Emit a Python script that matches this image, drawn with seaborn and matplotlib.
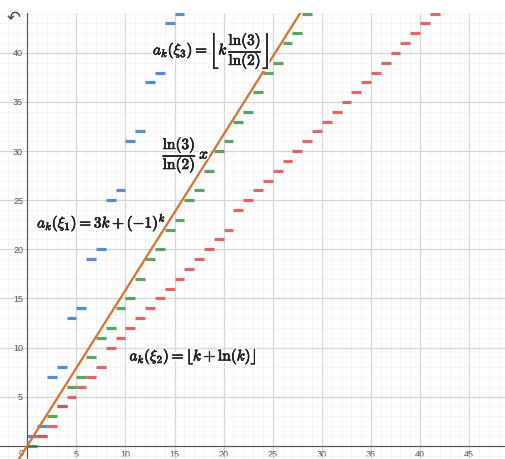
import numpy as np
import pandas as pd
import matplotlib.pyplot as plt
import matplotlib.patheffects as pe
from matplotlib.ticker import MultipleLocator, FuncFormatter
import seaborn as sns

# values a_k, one dash per k on [k, k+1]
k_blue = list(range(0, 16))
a_blue = [1, 2, 7, 8, 13, 14, 19, 20, 25, 26, 31, 32, 37, 38, 43, 44]
k_green = list(range(0, 29))
a_green = [0, 1, 3, 4, 6, 7, 9, 11, 12, 14, 15, 17, 19, 20, 22, 23, 25, 26,
           28, 30, 31, 33, 34, 36, 38, 39, 41, 42, 44]
k_red = list(range(1, 42))
a_red = [1, 2, 4, 5, 6, 7, 8, 10, 11, 12, 13, 14, 15, 16, 17, 18, 19, 20, 21,
         22, 24, 25, 26, 27, 28, 29, 30, 31, 32, 33, 34, 35, 36, 37, 38, 39,
         40, 41, 42, 43, 44]
slope = 1.585  # ln(3)/ln(2)

sns.set_style("white")
plt.rcParams['mathtext.fontset'] = 'cm'
plt.rcParams['font.family'] = ['Liberation Sans', 'DejaVu Sans']

fig = plt.figure(figsize=(5.05, 4.59), dpi=100)
ax = fig.add_axes([0, 0, 1, (459 - 12.7) / 459])


def dashes(ks, vals):
    # every k gives one flat piece from k to k+1
    rows = []
    for k, a in zip(ks, vals):
        rows.append({'x': k, 'y': a, 'seg': k})
        rows.append({'x': k + 1, 'y': a, 'seg': k})
    return pd.DataFrame(rows)


for ks, vals, col in [(k_blue, a_blue, '#3a7bd0'),
                      (k_green, a_green, '#3f9550'),
                      (k_red, a_red, '#de4e4e')]:
    sns.lineplot(data=dashes(ks, vals), x='x', y='y', units='seg',
                 estimator=None, color=col, lw=2.3, alpha=0.85, ax=ax,
                 legend=False, sort=False, solid_capstyle='butt')

ax.axline((0, 0), slope=slope, color='#d9722a', lw=1.6, zorder=5)

ax.set_xlim(-2.78, 48.65)
ax.set_ylim(-1.35, 44.09)
ax.set_xlabel('')
ax.set_ylabel('')

# desmos style grid
ax.xaxis.set_major_locator(MultipleLocator(5))
ax.yaxis.set_major_locator(MultipleLocator(5))
ax.xaxis.set_minor_locator(MultipleLocator(1))
ax.yaxis.set_minor_locator(MultipleLocator(1))
fmt = FuncFormatter(lambda v, p: '' if abs(v) < 1e-9 else '%d' % v)
ax.xaxis.set_major_formatter(fmt)
ax.yaxis.set_major_formatter(fmt)
ax.grid(which='major', color='#d6d6d6', lw=0.9)
ax.grid(which='minor', color='#f1f1f1', lw=0.5)
ax.set_axisbelow(True)
ax.tick_params(which='both', length=0, labelsize=6.5, labelcolor='#555555')
ax.tick_params(axis='x', pad=3)
ax.tick_params(axis='y', pad=3)
for s in ['top', 'right']:
    ax.spines[s].set_visible(False)
ax.spines['left'].set_position(('data', 0))
ax.spines['bottom'].set_position(('data', 0))
ax.spines['left'].set_color('#555555')
ax.spines['bottom'].set_color('#555555')
ax.text(-0.35, -0.3, '0', ha='right', va='top', fontsize=6.5, color='#555555')

# white halo plus a thin dark stroke to get the heavier desmos look
halo = [pe.withStroke(linewidth=3, foreground='white'),
        pe.Stroke(linewidth=0.5, foreground='#222222'), pe.Normal()]
kw = dict(fontsize=11, ha='left', va='center', color='#222222',
          path_effects=halo, zorder=6)
ax.text(12.8, 40.2, r'$a_k(\xi_3) = \left\lfloor k\,\dfrac{\ln(3)}{\ln(2)}\right\rfloor$', **kw)
ax.text(13.8, 29.6, r'$\dfrac{\ln(3)}{\ln(2)}\,x$', **kw)
ax.text(1.0, 22.75, r'$a_k(\xi_1) = 3k + (-1)^k$', **kw)
ax.text(10.4, 9.1, r'$a_k(\xi_2) = \lfloor k + \ln(k)\rfloor$', **kw)

fig.text(0.026, 0.962, '\u21b6', fontsize=12, color='#444444',
         ha='center', va='center', family=['DejaVu Sans'])

fig.savefig('out.png', dpi=100)
